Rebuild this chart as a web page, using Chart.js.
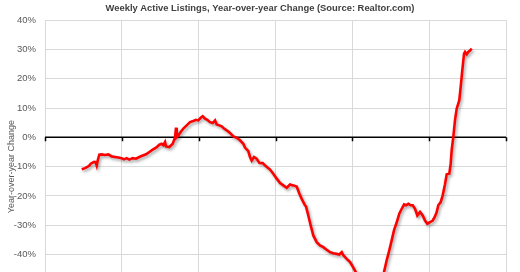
<!DOCTYPE html>
<html>
<head>
<meta charset="utf-8">
<script src="https://cdn.jsdelivr.net/npm/chart.js@4.4.1/dist/chart.umd.min.js"></script>
<style>
  html, body { margin: 0; padding: 0; overflow: hidden; background: #fff; }
  #wrap { width: 520px; height: 340px; }
</style>
</head>
<body>
<div id="wrap"><canvas id="chart" width="520" height="340"></canvas></div>
<script>
// week positions as decimal years
const weekYears = [
  2017.478, 2017.521, 2017.551, 2017.577, 2017.595, 2017.616, 2017.638, 2017.660, 2017.673, 2017.686,
  2017.707, 2017.738, 2017.781, 2017.824, 2017.868, 2017.911, 2017.954, 2017.998, 2018.028, 2018.063,
  2018.097, 2018.141, 2018.184, 2018.227, 2018.272, 2018.315, 2018.358, 2018.402, 2018.445, 2018.488,
  2018.519, 2018.540, 2018.562, 2018.575, 2018.618, 2018.662, 2018.692, 2018.705, 2018.714, 2018.735,
  2018.766, 2018.800, 2018.844, 2018.887, 2018.930, 2018.965, 2018.995, 2019.027, 2019.053, 2019.083,
  2019.112, 2019.148, 2019.183, 2019.213, 2019.235, 2019.269, 2019.300, 2019.330, 2019.365, 2019.408,
  2019.451, 2019.495, 2019.538, 2019.581, 2019.603, 2019.646, 2019.668, 2019.690, 2019.720, 2019.755,
  2019.789, 2019.833, 2019.876, 2019.929, 2019.971, 2020.016, 2020.059, 2020.102, 2020.146, 2020.189,
  2020.232, 2020.276, 2020.310, 2020.341, 2020.384, 2020.397, 2020.427, 2020.458, 2020.492, 2020.536,
  2020.579, 2020.622, 2020.666, 2020.709, 2020.752, 2020.797, 2020.830, 2020.862, 2020.883, 2020.927,
  2020.970, 2021.013, 2021.048, 2021.100, 2021.152, 2021.204, 2021.256, 2021.308, 2021.360, 2021.412,
  2021.447, 2021.481, 2021.512, 2021.542, 2021.578, 2021.611, 2021.643, 2021.673, 2021.699, 2021.729,
  2021.760, 2021.786, 2021.816, 2021.846, 2021.881, 2021.916, 2021.946, 2021.976, 2022.011, 2022.046,
  2022.076, 2022.098, 2022.119, 2022.150, 2022.176, 2022.206, 2022.228, 2022.262, 2022.280, 2022.293,
  2022.314, 2022.336, 2022.358, 2022.392, 2022.410, 2022.431, 2022.454, 2022.467, 2022.489, 2022.509,
  2022.532, 2022.554
];

// year-over-year change in active listings, percent
const yoyChange = [
  -10.9, -10.5, -10.1, -9.6, -9.0, -8.7, -8.4, -8.5, -9.6, -7.9,
  -5.9, -5.8, -6.0, -5.8, -6.5, -6.7, -6.9, -7.1, -7.5, -7.1,
  -7.6, -7.1, -7.3, -6.7, -6.2, -5.8, -5.0, -4.2, -3.5, -2.5,
  -2.2, -2.7, -1.6, -3.1, -3.3, -2.2, -0.1, 3.3, 0.1, 0.7,
  1.8, 3.0, 4.1, 5.2, 5.6, 6.0, 5.8, 6.7, 7.2, 6.4,
  6.0, 5.2, 4.9, 5.8, 4.4, 4.1, 3.8, 3.0, 2.4, 1.5,
  0.3, -0.1, -1.0, -2.2, -3.5, -4.7, -6.7, -7.9, -6.7, -7.3,
  -8.7, -8.8, -9.9, -11.0, -12.4, -14.1, -15.6, -16.4, -17.2, -16.1,
  -16.4, -16.8, -19.2, -21.0, -23.2, -23.6, -26.7, -30.1, -33.5, -35.8,
  -36.9, -37.5, -38.4, -39.2, -39.6, -39.8, -40.0, -39.2, -40.3, -41.5,
  -42.6, -44.5, -46.2, -48.5, -51.0, -52.5, -53.0, -52.0, -49.5, -46.0,
  -42.0, -38.6, -35.2, -31.8, -29.0, -26.1, -24.4, -22.9, -23.2, -22.7,
  -23.2, -23.2, -24.4, -26.7, -25.5, -26.7, -28.4, -29.5, -29.0, -28.4,
  -27.0, -25.5, -23.2, -22.1, -19.8, -16.0, -12.6, -12.4, -9.0, -4.4,
  0.1, 5.8, 9.8, 12.6, 17.2, 22.9, 28.6, 29.2, 28.4, 29.2,
  29.7, 30.3
];

const yearTicks = [2017, 2018, 2019, 2020, 2021, 2022, 2023];
const pctTicks = [-60, -50, -40, -30, -20, -10, 0, 10, 20, 30, 40];

const FONT = "'Liberation Sans', Arial, sans-serif";
const GRID = '#d9d9d9';

// soft grey shadow under the red line, like the Excel original
const lineShadow = {
  id: 'lineShadow',
  beforeDatasetDraw(chart) {
    const ctx = chart.ctx;
    ctx.save();
    ctx.shadowColor = 'rgba(0,0,0,0.35)';
    ctx.shadowBlur = 3;
    ctx.shadowOffsetX = 1.5;
    ctx.shadowOffsetY = 2;
  },
  afterDatasetDraw(chart) {
    chart.ctx.restore();
  }
};

// black zero axis with small tick marks
const zeroAxis = {
  id: 'zeroAxis',
  beforeDatasetsDraw(chart) {
    const { ctx, chartArea, scales } = chart;
    const y0 = scales.y.getPixelForValue(0);
    ctx.save();
    ctx.strokeStyle = '#000';
    ctx.lineWidth = 1.5;
    ctx.beginPath();
    ctx.moveTo(chartArea.left, y0);
    ctx.lineTo(chartArea.right, y0);
    yearTicks.forEach(yr => {
      const x = Math.round(scales.x.getPixelForValue(yr)) + 0.5;
      ctx.moveTo(x, y0);
      ctx.lineTo(x, y0 + 4);
    });
    ctx.stroke();
    ctx.restore();
  }
};

new Chart(document.getElementById('chart'), {
  type: 'line',
  data: {
    datasets: [{
      data: weekYears.map((x, i) => ({ x, y: yoyChange[i] })),
      borderColor: '#ff0000',
      borderWidth: 2.6,
      pointRadius: 0,
      tension: 0,
      fill: false
    }]
  },
  options: {
    responsive: false,
    animation: false,
    layout: { padding: 0 },
    plugins: {
      legend: { display: false },
      tooltip: { enabled: false },
      title: {
        display: true,
        text: 'Weekly Active Listings, Year-over-year Change (Source: Realtor.com)',
        color: '#404040',
        font: { family: FONT, size: 9.4, weight: 'bold' },
        padding: { top: 3, bottom: 6 }
      }
    },
    scales: {
      x: {
        type: 'linear',
        min: 2017,
        max: 2023,
        afterBuildTicks: s => { s.ticks = yearTicks.map(v => ({ value: v })); },
        afterFit: s => { s.height = 27; s.paddingRight = 14; s.paddingLeft = 0; },
        grid: { color: GRID, lineWidth: 1, drawTicks: false },
        border: { color: GRID },
        ticks: {
          color: '#595959',
          font: { family: FONT, size: 9.5 },
          padding: 6,
          callback: v => String(v)
        }
      },
      y: {
        min: -60,
        max: 40,
        afterBuildTicks: s => { s.ticks = pctTicks.map(v => ({ value: v })); },
        afterFit: s => { s.width = 45; },
        grid: { color: GRID, lineWidth: 1, drawTicks: false },
        border: { color: GRID },
        ticks: {
          color: '#595959',
          font: { family: FONT, size: 9.5 },
          padding: 9,
          callback: v => v + '%'
        },
        title: {
          display: true,
          text: 'Year-over-year Change',
          color: '#595959',
          font: { family: FONT, size: 9 },
          padding: { top: 6, bottom: 0 }
        }
      }
    }
  },
  plugins: [lineShadow, zeroAxis]
});
</script>
</body>
</html>
